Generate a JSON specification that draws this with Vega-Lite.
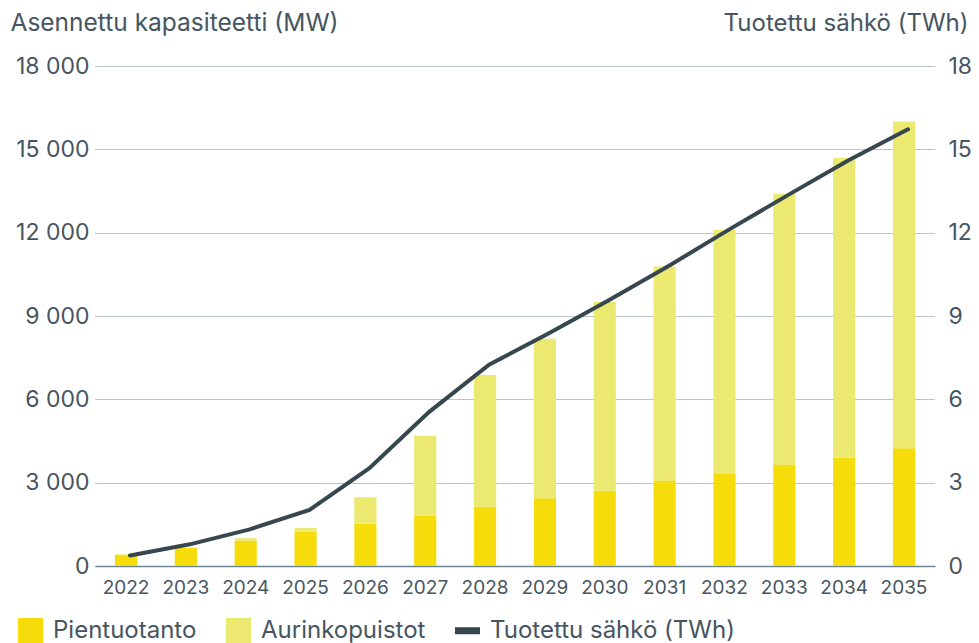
{
  "$schema": "https://vega.github.io/schema/vega-lite/v6.json",
  "autosize": {"type": "none"},
  "width": 840,
  "height": 500,
  "padding": {"left": 95, "top": 66, "right": 44, "bottom": 77},
  "background": "white",
  "config": {
    "font": "Inter",
    "view": {"stroke": null},
    "axis": {"labelColor": "#46555f", "titleColor": "#46555f", "labelFont": "Inter", "titleFont": "Inter", "titleFontWeight": "normal"}
  },
  "datasets": {
    "kapasiteetti": [
      {"vuosi": "2022", "sarja": "Pientuotanto", "MW": 390, "jarjestys": 1},
      {"vuosi": "2022", "sarja": "Aurinkopuistot", "MW": 30, "jarjestys": 2},
      {"vuosi": "2023", "sarja": "Pientuotanto", "MW": 650, "jarjestys": 1},
      {"vuosi": "2023", "sarja": "Aurinkopuistot", "MW": 10, "jarjestys": 2},
      {"vuosi": "2024", "sarja": "Pientuotanto", "MW": 910, "jarjestys": 1},
      {"vuosi": "2024", "sarja": "Aurinkopuistot", "MW": 90, "jarjestys": 2},
      {"vuosi": "2025", "sarja": "Pientuotanto", "MW": 1240, "jarjestys": 1},
      {"vuosi": "2025", "sarja": "Aurinkopuistot", "MW": 130, "jarjestys": 2},
      {"vuosi": "2026", "sarja": "Pientuotanto", "MW": 1525, "jarjestys": 1},
      {"vuosi": "2026", "sarja": "Aurinkopuistot", "MW": 950, "jarjestys": 2},
      {"vuosi": "2027", "sarja": "Pientuotanto", "MW": 1810, "jarjestys": 1},
      {"vuosi": "2027", "sarja": "Aurinkopuistot", "MW": 2880, "jarjestys": 2},
      {"vuosi": "2028", "sarja": "Pientuotanto", "MW": 2135, "jarjestys": 1},
      {"vuosi": "2028", "sarja": "Aurinkopuistot", "MW": 4740, "jarjestys": 2},
      {"vuosi": "2029", "sarja": "Pientuotanto", "MW": 2435, "jarjestys": 1},
      {"vuosi": "2029", "sarja": "Aurinkopuistot", "MW": 5750, "jarjestys": 2},
      {"vuosi": "2030", "sarja": "Pientuotanto", "MW": 2710, "jarjestys": 1},
      {"vuosi": "2030", "sarja": "Aurinkopuistot", "MW": 6790, "jarjestys": 2},
      {"vuosi": "2031", "sarja": "Pientuotanto", "MW": 3060, "jarjestys": 1},
      {"vuosi": "2031", "sarja": "Aurinkopuistot", "MW": 7720, "jarjestys": 2},
      {"vuosi": "2032", "sarja": "Pientuotanto", "MW": 3335, "jarjestys": 1},
      {"vuosi": "2032", "sarja": "Aurinkopuistot", "MW": 8760, "jarjestys": 2},
      {"vuosi": "2033", "sarja": "Pientuotanto", "MW": 3635, "jarjestys": 1},
      {"vuosi": "2033", "sarja": "Aurinkopuistot", "MW": 9770, "jarjestys": 2},
      {"vuosi": "2034", "sarja": "Pientuotanto", "MW": 3910, "jarjestys": 1},
      {"vuosi": "2034", "sarja": "Aurinkopuistot", "MW": 10780, "jarjestys": 2},
      {"vuosi": "2035", "sarja": "Pientuotanto", "MW": 4235, "jarjestys": 1},
      {"vuosi": "2035", "sarja": "Aurinkopuistot", "MW": 11770, "jarjestys": 2}
    ],
    "sahko": [
      {"vuosi": "2022", "TWh": 0.38},
      {"vuosi": "2023", "TWh": 0.78},
      {"vuosi": "2024", "TWh": 1.32},
      {"vuosi": "2025", "TWh": 2.02},
      {"vuosi": "2026", "TWh": 3.52},
      {"vuosi": "2027", "TWh": 5.55},
      {"vuosi": "2028", "TWh": 7.25},
      {"vuosi": "2029", "TWh": 8.38},
      {"vuosi": "2030", "TWh": 9.57},
      {"vuosi": "2031", "TWh": 10.8},
      {"vuosi": "2032", "TWh": 12.1},
      {"vuosi": "2033", "TWh": 13.36},
      {"vuosi": "2034", "TWh": 14.6},
      {"vuosi": "2035", "TWh": 15.72}
    ]
  },
  "encoding": {
    "x": {
      "field": "vuosi",
      "type": "ordinal",
      "scale": {"paddingInner": 0.63, "paddingOuter": 0.333},
      "axis": {
        "title": null,
        "labelAngle": 0,
        "labelFontSize": 19,
        "labelPadding": 12,
        "ticks": false,
        "domainColor": "#6e8594",
        "domainWidth": 1.5,
        "grid": false
      }
    }
  },
  "layer": [
    {
      "data": {"name": "kapasiteetti"},
      "mark": {"type": "bar"},
      "encoding": {
        "y": {
          "field": "MW",
          "type": "quantitative",
          "stack": "zero",
          "scale": {"domain": [0, 18000], "nice": false},
          "axis": {
            "title": "Asennettu kapasiteetti (MW)",
            "titleAngle": 0,
            "titleAlign": "left",
            "titleBaseline": "alphabetic",
            "titleX": -85,
            "titleY": -36,
            "titleFontSize": 24.5,
            "values": [0, 3000, 6000, 9000, 12000, 15000, 18000],
            "labelExpr": "replace(format(datum.value, ','), ',', ' ')",
            "labelFontSize": 23,
            "labelPadding": 6,
            "ticks": false,
            "domain": false,
            "grid": true,
            "gridColor": "#7d8a92",
            "gridDash": [1, 1],
            "gridWidth": 1
          }
        },
        "color": {
          "field": "sarja",
          "type": "nominal",
          "scale": {
            "domain": ["Pientuotanto", "Aurinkopuistot", "Tuotettu sähkö (TWh)"],
            "range": ["#F5DC0A", "#EBE970", "#37474F"]
          },
          "legend": {
            "title": null,
            "orient": "none",
            "direction": "horizontal",
            "legendX": -77,
            "legendY": 552,
            "padding": 0,
            "labelFont": "Inter",
            "labelFontSize": 24,
            "labelLimit": 0,
            "labelColor": "#46555f",
            "labelOffset": 10,
            "columnPadding": 29,
            "symbolSize": 625,
            "symbolStrokeWidth": 0,
            "encode": {
              "symbols": {
                "update": {
                  "shape": {"signal": "datum.value === 'Tuotettu sähkö (TWh)' ? 'M-1,-0.28H1V0.28H-1Z' : 'square'"},
                  "fill": {"signal": "scale('color', datum.value)"},
                  "strokeWidth": {"value": 0},
                  "opacity": {"value": 1},
                  "fillOpacity": {"value": 1}
                }
              }
            }
          }
        },
        "order": {"field": "jarjestys", "type": "quantitative"}
      }
    },
    {
      "data": {"name": "sahko"},
      "mark": {"type": "line", "strokeWidth": 4, "strokeCap": "round", "xOffset": 4},
      "encoding": {
        "y": {
          "field": "TWh",
          "type": "quantitative",
          "scale": {"domain": [0, 18], "nice": false},
          "axis": {
            "orient": "right",
            "title": "Tuotettu sähkö (TWh)",
            "titleAngle": 0,
            "titleAlign": "right",
            "titleBaseline": "alphabetic",
            "titleX": 33,
            "titleY": -36,
            "titleFontSize": 24,
            "values": [0, 3, 6, 9, 12, 15, 18],
            "labelFontSize": 23,
            "labelPadding": 13,
            "ticks": false,
            "domain": false,
            "grid": false
          }
        },
        "color": {"datum": "Tuotettu sähkö (TWh)", "type": "nominal"}
      }
    }
  ],
  "resolve": {"scale": {"y": "independent"}}
}
